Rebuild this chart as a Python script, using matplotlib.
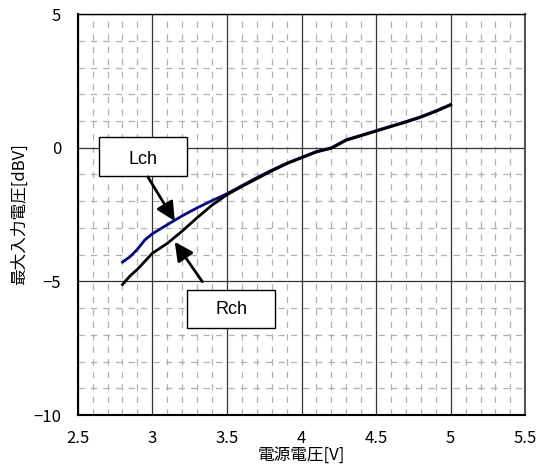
import matplotlib
matplotlib.use("Agg")
import matplotlib.pyplot as plt
from matplotlib.patches import Rectangle
from matplotlib.ticker import MultipleLocator, FixedLocator

plt.rcParams['font.family'] = ['Noto Sans CJK JP', 'DejaVu Sans']

# Supply voltage [V]
voltage = [2.80, 2.85, 2.90, 2.95, 3.00, 3.10, 3.20, 3.30, 3.40, 3.50,
           3.60, 3.70, 3.80, 3.90, 4.00, 4.10, 4.20, 4.30, 4.40, 4.50,
           4.60, 4.70, 4.80, 4.90, 5.00]
# Maximum input level [dBV]
lch = [-4.28, -4.08, -3.80, -3.45, -3.22, -2.88, -2.55, -2.25, -1.98, -1.72,
       -1.42, -1.12, -0.84, -0.58, -0.36, -0.14, 0.00, 0.30, 0.47, 0.64,
       0.81, 0.98, 1.16, 1.38, 1.62]
rch = [-5.12, -4.80, -4.55, -4.25, -3.95, -3.58, -3.12, -2.62, -2.15, -1.76,
       -1.45, -1.16, -0.87, -0.60, -0.38, -0.16, -0.02, 0.28, 0.45, 0.62,
       0.79, 0.96, 1.14, 1.36, 1.60]

x_ticks = [2.5, 3, 3.5, 4, 4.5, 5, 5.5]
x_ticklabels = ['2.5', '3', '3.5', '4', '4.5', '5', '5.5']
y_ticks = [-10, -5, 0, 5]
y_ticklabels = ['\u221210', '\u22125', '0', '5']

fig = plt.figure(figsize=(5.36, 4.70), dpi=100)
ax = fig.add_axes([0.145, 0.117, 0.835, 0.853])
ax.set_xlim(2.5, 5.5)
ax.set_ylim(-10, 5)

# minor dashed grid
ax.xaxis.set_minor_locator(MultipleLocator(0.1))
ax.yaxis.set_minor_locator(MultipleLocator(1))
ax.grid(which='minor', color='#b0b0b0', linestyle=(0, (5, 5)), linewidth=0.9)
# major solid grid
ax.xaxis.set_major_locator(FixedLocator(x_ticks))
ax.yaxis.set_major_locator(FixedLocator(y_ticks))
ax.grid(which='major', color='#333333', linestyle='-', linewidth=0.9)
ax.set_axisbelow(True)

ax.set_xticklabels(x_ticklabels)
ax.set_yticklabels(y_ticklabels)
ax.tick_params(which='both', length=0)
ax.tick_params(axis='x', pad=11, labelsize=12)
ax.tick_params(axis='y', pad=12, labelsize=12)

for side, sp in ax.spines.items():
    sp.set_linewidth(1.5)
    sp.set_color('black')
ax.spines['top'].set_linewidth(1.0)
ax.spines['right'].set_color('#555555')

ax.plot(voltage, lch, color='#0a0a80', linewidth=2.0, zorder=3)
ax.plot(voltage, rch, color='black', linewidth=2.0, zorder=3)

# labelled callouts
ax.add_patch(Rectangle((2.64, -1.06), 0.595, 1.46, facecolor='white',
                       edgecolor='black', linewidth=1.0, zorder=5))
ax.text(2.94, -0.43, 'Lch', ha='center', va='center', fontsize=13,
        family=['Liberation Sans', 'DejaVu Sans'], zorder=6)
ax.annotate('', xy=(3.15, -2.74), xytext=(2.97, -1.09),
            arrowprops=dict(arrowstyle='-|>', mutation_scale=28, lw=2.0,
                            color='black', shrinkA=0, shrinkB=0), zorder=6)

ax.add_patch(Rectangle((3.235, -6.75), 0.585, 1.44, facecolor='white',
                       edgecolor='black', linewidth=1.0, zorder=5))
ax.text(3.53, -6.05, 'Rch', ha='center', va='center', fontsize=13,
        family=['Liberation Sans', 'DejaVu Sans'], zorder=6)
ax.annotate('', xy=(3.15, -3.52), xytext=(3.335, -5.01),
            arrowprops=dict(arrowstyle='-|>', mutation_scale=28, lw=2.0,
                            color='black', shrinkA=0, shrinkB=0), zorder=6)

ax.set_xlabel('電源電圧[V]', fontsize=12, labelpad=0)
ax.set_ylabel('最大入力電圧[dBV]', fontsize=12, labelpad=4)

fig.savefig('out.png', dpi=100)
